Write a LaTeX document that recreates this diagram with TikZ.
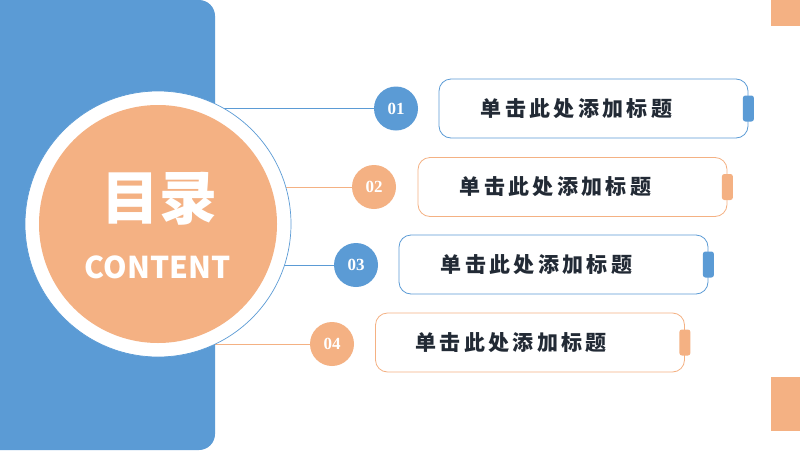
\documentclass[tikz,border=0pt]{standalone}
\usepackage{fontspec}
\newfontfamily\cjk{Noto Sans CJK SC}
\newfontfamily\cjksp{Noto Sans CJK SC}[LetterSpace=16]
\newfontfamily\numfont{Liberation Serif}
\definecolor{myblue}{HTML}{5B9BD5}
\definecolor{myorange}{HTML}{F4B183}
\definecolor{inkc}{HTML}{222A35}
\tikzset{
  num/.style={circle, minimum size=44pt, inner sep=0pt, text=white, font=\numfont\bfseries\fontsize{17}{17}\selectfont},
  boxx/.style={draw, rounded corners=12pt, line width=0.8pt, fill=white, minimum width=309pt, minimum height=59pt, inner sep=0pt},
  tabb/.style={rounded corners=2.5pt, minimum width=11pt, minimum height=26pt, inner sep=0pt},
  ttl/.style={anchor=west, inner sep=0pt, text=inkc, font=\cjksp\bfseries\fontsize{21}{21}\selectfont},
  link/.style={line width=0.9pt}
}
\begin{document}
\begin{tikzpicture}[x=1pt,y=-1pt]
\useasboundingbox (0,0) rectangle (800,450);
\fill[white] (0,0) rectangle (800,450);
% corner blocks
\fill[myorange] (771,0) rectangle (800,26);
\fill[myorange] (771,377) rectangle (800,431);
% anchor points
\coordinate (c) at (158,224);
\coordinate (p1) at (396,108.5);
\coordinate (p2) at (374,187);
\coordinate (p3) at (356,265);
\coordinate (p4) at (332,344);
% connectors (behind)
\draw[link, myblue] (c |- p1) -- (p1);
\draw[link, myorange] (c |- p2) -- (p2);
\draw[link, myblue] (c |- p3) -- (p3);
\draw[link, myorange] (c |- p4) -- (p4);
% left panel
\fill[myblue, rounded corners=16pt] (-30,0) rectangle (215,450);
% big circle
\node[circle, fill=white, draw=myblue, line width=0.7pt, minimum size=266pt, inner sep=0pt] (big) at (c) {};
\node[circle, fill=myorange, minimum size=238pt, inner sep=0pt] (inner) at (c) {};
\node[text=white, inner sep=0pt, font=\cjk\bfseries\fontsize{58}{58}\selectfont] (mulu) at (159,199) {目录};
\node[text=white, inner sep=0pt, font=\cjk\bfseries\fontsize{30}{30}\selectfont] (content) at (157.5,267) {CONTENT};
% number circles
\node[num, fill=myblue] (n1) at (p1) {01};
\node[num, fill=myorange] (n2) at (p2) {02};
\node[num, fill=myblue] (n3) at (p3) {03};
\node[num, fill=myorange] (n4) at (p4) {04};
% boxes
\node[boxx, draw=myblue] (b1) at (593.5,108.5) {};
\node[boxx, draw=myorange] (b2) at (572.5,187) {};
\node[boxx, draw=myblue] (b3) at (553.5,264.5) {};
\node[boxx, draw=myorange] (b4) at (530,342.5) {};
\node[tabb, fill=myblue] (t1) at (b1.east) {};
\node[tabb, fill=myorange] (t2) at (b2.east) {};
\node[tabb, fill=myblue] (t3) at (b3.east) {};
\node[tabb, fill=myorange] (t4) at (b4.east) {};
\node[ttl] (l1) at ([xshift=42pt]b1.west) {单击此处添加标题};
\node[ttl] (l2) at ([xshift=42pt]b2.west) {单击此处添加标题};
\node[ttl] (l3) at ([xshift=42pt]b3.west) {单击此处添加标题};
\node[ttl] (l4) at ([xshift=40pt]b4.west) {单击此处添加标题};
\end{tikzpicture}
\end{document}
